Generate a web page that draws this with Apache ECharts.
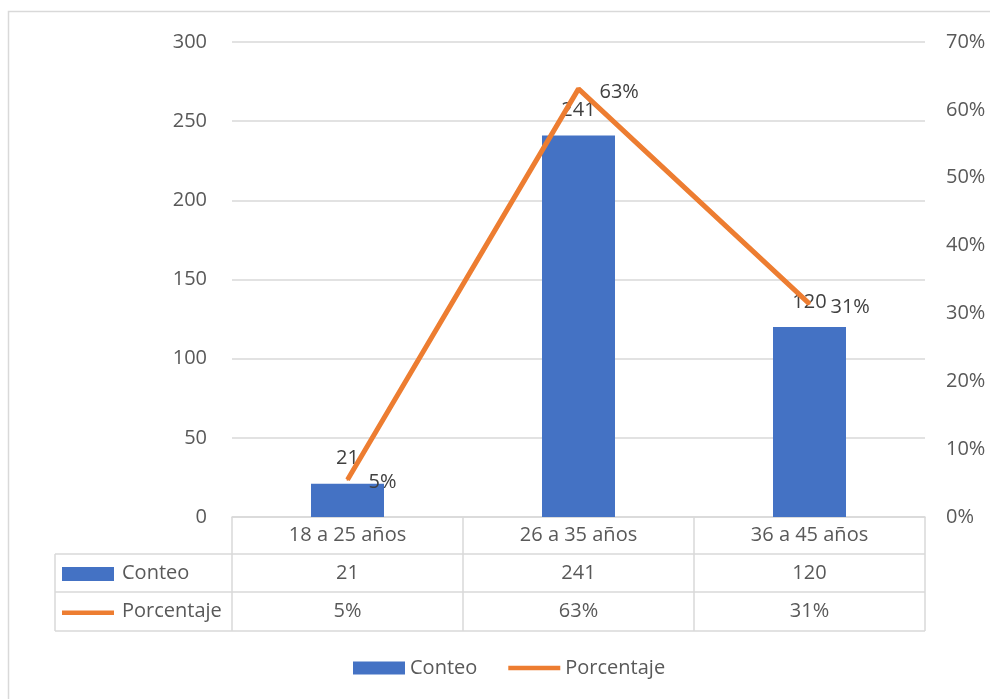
<!DOCTYPE html>
<html>
<head>
<meta charset="utf-8">
<script src="https://cdn.jsdelivr.net/npm/echarts@6/dist/echarts.min.js"></script>
<style>
html,body{margin:0;padding:0;background:#fff;}
#main{width:990px;height:699px;}
</style>
</head>
<body>
<div id="main"></div>
<script>
// ---- data ----
const categories = ['18 a 25 años', '26 a 35 años', '36 a 45 años'];
const conteo = [21, 241, 120];
const porcentaje = [0.0549, 0.6309, 0.3141];
const seriesNames = ['Conteo', 'Porcentaje'];

// ---- style ----
const FONT = 'Open Sans';
const BLUE = '#4472C4';
const ORANGE = '#ED7D31';
const GRID_C = '#d9d9d9';
const TXT = '#595959';
const LBL = '#404040';
const FS = 20;

const gridLeft = 232, gridRight = 65, gridTop = 42, gridBottom = 182;
const plotRight = 990 - gridRight;
const plotBottom = 699 - gridBottom;
const rowY = [plotBottom, 554, 592, 631];
const tableLeft = 55;

const pct = v => Math.round(v * 100) + '%';

const chart = echarts.init(document.getElementById('main'));

const option = {
  animation: false,
  backgroundColor: '#fff',
  textStyle: { fontFamily: FONT },
  grid: { left: gridLeft, right: gridRight, top: gridTop, bottom: gridBottom, containLabel: false },
  legend: {
    data: [
      { name: seriesNames[0], icon: 'rect' },
      { name: seriesNames[1], icon: 'path://M0,0h52v4.5h-52z' }
    ],
    left: 353,
    top: 658,
    padding: 0,
    itemWidth: 52,
    itemHeight: 13,
    itemGap: 31,
    textStyle: { color: TXT, fontSize: FS, fontFamily: FONT },
    selectedMode: false
  },
  xAxis: {
    type: 'category',
    data: categories,
    axisLine: { show: true, lineStyle: { color: GRID_C, width: 1.5 } },
    axisTick: { show: false },
    axisLabel: { show: false },
    splitLine: { show: false }
  },
  yAxis: [
    {
      type: 'value', min: 0, max: 300, interval: 50,
      axisLine: { show: false }, axisTick: { show: false },
      axisLabel: { color: TXT, fontSize: FS, fontFamily: FONT, margin: 25 },
      splitLine: { show: true, lineStyle: { color: GRID_C, width: 1.5 } }
    },
    {
      type: 'value', min: 0, max: 0.7, interval: 0.1,
      axisLine: { show: false }, axisTick: { show: false },
      axisLabel: { color: TXT, fontSize: FS, fontFamily: FONT, margin: 21, formatter: v => pct(v) },
      splitLine: { show: false }
    }
  ],
  series: [
    {
      name: seriesNames[0],
      type: 'bar',
      data: conteo,
      barWidth: 73,
      itemStyle: { color: BLUE },
      label: { show: true, position: 'top', distance: 15, color: LBL, fontSize: FS, fontFamily: FONT }
    },
    {
      name: seriesNames[1],
      type: 'line',
      yAxisIndex: 1,
      data: porcentaje,
      symbol: 'circle',
      symbolSize: 2,
      showSymbol: true,
      lineStyle: { color: ORANGE, width: 5 },
      itemStyle: { color: ORANGE },
      label: { show: true, position: 'right', distance: 20, offset: [0, 3], color: LBL, fontSize: FS, fontFamily: FONT, formatter: p => pct(p.value) },
      z: 3
    }
  ]
};
chart.setOption(option);

// ---- data table below the axis ----
const g = [];
const band = (plotRight - gridLeft) / categories.length;
const lineStyle = { stroke: GRID_C, lineWidth: 1.5 };
// outer chart border
g.push({ type: 'rect', shape: { x: 8.5, y: 11.5, width: 1100, height: 1100 }, style: { fill: 'none', stroke: GRID_C, lineWidth: 1.5 }, silent: true, z: -1 });
// horizontal lines
g.push({ type: 'line', shape: { x1: tableLeft, y1: rowY[1], x2: plotRight, y2: rowY[1] }, style: lineStyle });
g.push({ type: 'line', shape: { x1: tableLeft, y1: rowY[2], x2: plotRight, y2: rowY[2] }, style: lineStyle });
g.push({ type: 'line', shape: { x1: tableLeft, y1: rowY[3], x2: plotRight, y2: rowY[3] }, style: lineStyle });
// vertical lines
g.push({ type: 'line', shape: { x1: tableLeft, y1: rowY[1], x2: tableLeft, y2: rowY[3] }, style: lineStyle });
for (let i = 0; i <= categories.length; i++) {
  const x = gridLeft + band * i;
  g.push({ type: 'line', shape: { x1: x, y1: rowY[0], x2: x, y2: rowY[3] }, style: lineStyle });
}
// row headers
const keyX = 62;
g.push({ type: 'rect', shape: { x: keyX, y: 567, width: 52, height: 14 }, style: { fill: BLUE } });
g.push({ type: 'rect', shape: { x: keyX, y: 610.5, width: 52, height: 4.5 }, style: { fill: ORANGE } });
g.push({ type: 'text', x: 122, y: (rowY[1] + rowY[2]) / 2, style: { text: seriesNames[0], fill: TXT, fontSize: FS, fontFamily: FONT, verticalAlign: 'middle', align: 'left' } });
g.push({ type: 'text', x: 122, y: (rowY[2] + rowY[3]) / 2, style: { text: seriesNames[1], fill: TXT, fontSize: FS, fontFamily: FONT, verticalAlign: 'middle', align: 'left' } });
// cells
categories.forEach((c, i) => {
  const cx = chart.convertToPixel({ xAxisIndex: 0 }, c);
  g.push({ type: 'text', x: cx, y: (rowY[0] + rowY[1]) / 2, style: { text: c, fill: TXT, fontSize: FS, fontFamily: FONT, align: 'center', verticalAlign: 'middle' } });
  g.push({ type: 'text', x: cx, y: (rowY[1] + rowY[2]) / 2, style: { text: String(conteo[i]), fill: TXT, fontSize: FS, fontFamily: FONT, align: 'center', verticalAlign: 'middle' } });
  g.push({ type: 'text', x: cx, y: (rowY[2] + rowY[3]) / 2, style: { text: pct(porcentaje[i]), fill: TXT, fontSize: FS, fontFamily: FONT, align: 'center', verticalAlign: 'middle' } });
});
chart.setOption({ graphic: g });
</script>
</body>
</html>
